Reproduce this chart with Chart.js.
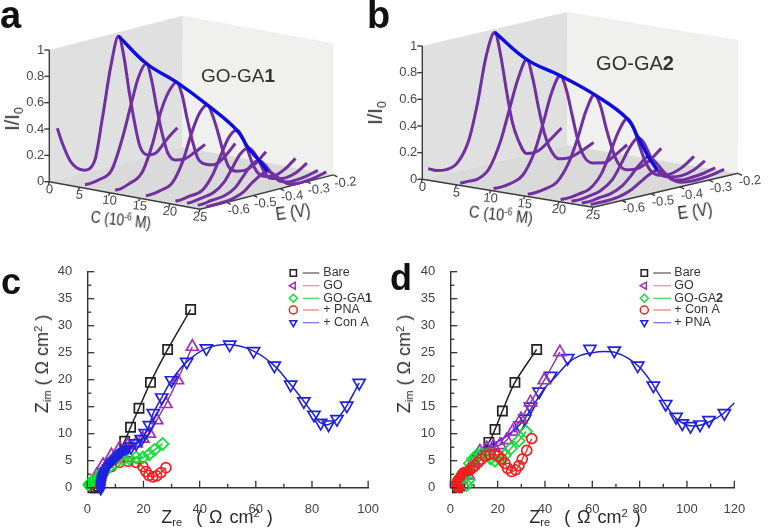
<!DOCTYPE html>
<html>
<head>
<meta charset="utf-8">
<title>GO-GA sensor curves</title>
<script src="https://cdn.jsdelivr.net/npm/chart.js@4"></script>
<style>
  html, body { margin: 0; padding: 0; background: #fff; }
  #page { position: relative; width: 769px; height: 530px; overflow: hidden; font-family: "Liberation Sans", Arial, sans-serif; }
  canvas { position: absolute; filter: blur(0.55px); }
  .t { position: absolute; white-space: nowrap; color: #2a2a2a; line-height: 1; transform-origin: center; filter: blur(0.3px); }
  .t sub { font-size: .62em; vertical-align: -0.3em; line-height: 0; }
  .t sup { font-size: .62em; vertical-align: 0.55em; line-height: 0; }
  .letter { position: absolute; font-weight: bold; line-height: 1; color: #111; }
</style>
</head>
<body>
<div id="page">
  <canvas id="panelA" width="385" height="250" style="left:0;top:0"></canvas>
  <canvas id="panelB" width="384" height="250" style="left:385px;top:0"></canvas>
  <canvas id="panelC" width="385" height="275" style="left:0;top:255px"></canvas>
  <canvas id="panelD" width="384" height="275" style="left:385px;top:255px"></canvas>

  <div class="letter" style="left:0;top:-4px;font-size:38px">a</div>
  <div class="letter" style="left:367px;top:-4px;font-size:38px">b</div>
  <div class="letter" style="left:1px;top:264px;font-size:36px">c</div>
  <div class="letter" style="left:390px;top:260px;font-size:36px">d</div>

  <div class="t" style="left:12px;top:119px;font-size:20px;transform:translate(-50%,-50%) rotate(-90deg)">I/I<sub>0</sub></div>
  <div class="t" style="left:375px;top:113px;font-size:20px;transform:translate(-50%,-50%) rotate(-90deg)">I/I<sub>0</sub></div>
  <div class="t" style="left:121px;top:220px;font-size:17px;transform:translate(-50%,-50%) rotate(6deg) scaleX(.8)">C (10<sup>-6</sup> M)</div>
  <div class="t" style="left:293px;top:212px;font-size:18px;transform:translate(-50%,-50%) rotate(-8deg) scaleX(.85)">E (V)</div>
  <div class="t" style="left:501px;top:215px;font-size:17px;transform:translate(-50%,-50%) rotate(6deg) scaleX(.85)">C (10<sup>-6</sup> M)</div>
  <div class="t" style="left:695px;top:211px;font-size:18px;transform:translate(-50%,-50%) rotate(-8deg) scaleX(.85)">E (V)</div>

  <div class="t" style="left:42px;top:364px;font-size:18px;transform:translate(-50%,-50%) rotate(-90deg)">Z<sub>im</sub> ( &#937; cm<sup>2</sup> )</div>
  <div class="t" style="left:217px;top:517px;font-size:18px;word-spacing:2px;transform:translate(-50%,-50%)">Z<sub>re</sub> &nbsp;( &#937; cm<sup>2</sup> )</div>
  <div class="t" style="left:404px;top:364px;font-size:18px;transform:translate(-50%,-50%) rotate(-90deg)">Z<sub>im</sub> ( &#937; cm<sup>2</sup> )</div>
  <div class="t" style="left:585px;top:517px;font-size:18px;word-spacing:2px;transform:translate(-50%,-50%)">Z<sub>re</sub> &nbsp;( &#937; cm<sup>2</sup> )</div>
</div>

<script>
// panel a: potentials and one I/I0 curve per concentration
const aPotential = [-0.67, -0.65, -0.62, -0.57, -0.53, -0.50, -0.47, -0.44, -0.42, -0.40, -0.38, -0.36, -0.33, -0.30, -0.26, -0.22];
const aConc = [0, 4.6, 9.6, 14.7, 19.6, 21.5, 23.3, 24.7];
const aCurve0 = [.39, .26, .11, .02, .07, .39, .75, .97, .80, .52, .28, .09, .01, .01, .09, .16];
const aCurve1 = [.00, .00, .01, .06, .28, .50, .71, .80, .66, .43, .23, .08, .01, .00, .03, .07];
const aCurve2 = [.00, .00, .02, .08, .28, .50, .64, .70, .60, .40, .22, .08, .02, .00, .04, .12];
const aCurve3 = [.00, .00, .01, .05, .20, .38, .52, .57, .48, .34, .18, .06, .01, .00, .03, .10];
const aCurve4 = [.00, .00, .01, .03, .13, .26, .38, .42, .36, .25, .13, .05, .01, .00, .03, .09];
const aCurve5 = [.00, .00, .01, .03, .09, .18, .27, .30, .26, .18, .09, .03, .01, .00, .02, .07];
const aCurve6 = [.00, .00, .01, .02, .06, .13, .20, .22, .18, .12, .06, .02, .00, .00, .01, .03];
const aCurve7 = [.00, .00, .00, .01, .04, .09, .13, .15, .12, .08, .04, .01, .00, .00, .01, .03];
const aPeakE = -0.44;
const aPeaks = [.97, .80, .70, .57, .42, .30, .22, .15];

// panel b
const bPotential = [-0.68, -0.65, -0.62, -0.58, -0.54, -0.51, -0.48, -0.45, -0.43, -0.41, -0.39, -0.37, -0.34, -0.30, -0.26, -0.22];
const bConc = [0, 4.7, 9.6, 14.6, 19.4, 21, 22.5, 23.8];
const bCurve0 = [.07, .04, .03, .06, .21, .47, .81, .975, .795, .52, .275, .13, .01, .01, .07, .14];
const bCurve1 = [.00, .00, .00, .06, .25, .47, .685, .81, .66, .43, .23, .10, .01, .00, .03, .07];
const bCurve2 = [.00, .00, .01, .05, .20, .40, .62, .73, .62, .42, .22, .09, .02, .00, .04, .095];
const bCurve3 = [.00, .00, .01, .04, .16, .32, .52, .63, .54, .36, .20, .08, .01, .00, .04, .11];
const bCurve4 = [.00, .00, .01, .03, .12, .26, .41, .49, .42, .28, .15, .06, .01, .00, .03, .09];
const bCurve5 = [.00, .00, .01, .03, .09, .19, .30, .36, .31, .21, .11, .04, .01, .00, .02, .07];
const bCurve6 = [.00, .00, .01, .02, .06, .12, .19, .23, .19, .13, .07, .02, .00, .00, .01, .03];
const bCurve7 = [.00, .00, .00, .01, .04, .08, .12, .14, .11, .07, .03, .01, .00, .00, .01, .03];
const bPeakE = -0.45;
const bPeaks = [.975, .81, .73, .63, .49, .36, .23, .14];

// 3d axis ticks
const currentTicks = ["1", "0.8", "0.6", "0.4", "0.2", "0"];
const currentTickVals = [1, .8, .6, .4, .2, 0];
const concTicks = [0, 5, 10, 15, 20, 25];
const potentialTicks = [-0.6, -0.5, -0.4, -0.3, -0.2];

// panel c: impedance
const cBareX = [2, 3, 4, 6, 9, 11.5, 13.3, 15.4, 18.4, 22.5, 28.6, 36.8];
const cBareY = [0, 0, .3, 2.5, 5, 7, 8.6, 11.2, 14.7, 19.5, 25.6, 33];
const cGoX = [37.4, 32.1, 28, 24.7, 22.1, 19.8, 17.4, 14.5, 11.5, 8.6, 5.6, 3.3, 1.5];
const cGoY = [26.1, 19.9, 15.5, 12.5, 10, 9.1, 8.2, 7.9, 7.3, 6, 4.2, 2.3, .8];
const cGaX = [26.8, 23.9, 22.1, 19.8, 17.4, 15, 12.7, 9.8, 7.4, 5.8, 5, 4.6, 4.3, 4, 3.7, 3.5, 3.3, 3, 2.8, 2.6, 2.4, 2.2, 2, 1.8, 1.5, 1.3, 1.2, 1.1, 1, .9, .8, .7, .6, .5, .4];
const cGaY = [8.1, 7, 6.2, 5.6, 5.6, 5.4, 5.3, 4.5, 3.6, 3.1, 2.7, 2.6, 2.4, 2.2, 2, 1.9, 1.7, 1.6, 1.5, 1.45, 1.4, 1.3, 1.2, 1.15, 1.1, 1.05, 1, .95, .9, .85, .8, .75, .7, .6, .5];
const cPnaX = [28, 26.2, 24.7, 23.3, 21.9, 20.9, 19.8, 17.4, 14.5, 11.5, 8.6, 5.6, 2.7, .9];
const cPnaY = [3.7, 2.8, 2.2, 2, 2.3, 3, 3.9, 4.7, 4.9, 4.7, 3.9, 2.7, 1.4, .5];
const cConAX = [96.8, 92.4, 88.9, 85.9, 83.1, 80.7, 77.1, 72.4, 66.6, 59.2, 50.7, 42.4, 35.4, 30, 26.5, 23.5, 22.1, 20.6, 19.2, 17.4, 15.6, 14.5, 13.9, 13.3, 12.7, 12.1, 11.5, 10.9, 10.3, 9.8, 9.2, 8.6, 8, 7.4, 7, 6.5, 6.2, 6, 5.8, 5.6, 5.5, 5.3, 5.2, 5.1, 5, 4.9, 4.85, 4.8, 4.8, 4.8];
const cConAY = [19.4, 15.2, 12.7, 11.7, 12, 13.5, 16, 19.1, 22.6, 25.3, 26.5, 25.8, 23.3, 19.9, 16.7, 13.8, 11.6, 10.1, 9, 8.2, 7.6, 7.3, 7.1, 7, 6.8, 6.5, 6.2, 6, 5.7, 5.4, 5.1, 4.8, 4.5, 4.1, 3.7, 3.3, 3, 2.8, 2.5, 2.3, 2.1, 1.9, 1.7, 1.4, 1.15, .9, .7, .5, .1, -.4];

// panel d: impedance
const dBareX = [3, 4, 6, 10, 13, 16.3, 18.9, 22, 27.3, 36.5];
const dBareY = [0, .3, 2, 5, 7, 8.4, 10.8, 14.2, 19.5, 25.6];
const dGoX = [46.3, 39.7, 33.9, 29.9, 26.3, 23.8, 21, 18.2, 15.4, 12.5, 9.7, 7.6, 5.5];
const dGoY = [25.1, 19.9, 15.8, 12.7, 10.4, 8.8, 7.9, 7.6, 7.3, 6.7, 4.8, 2.3, .5];
const dGaX = [32, 28.9, 25.6, 23.1, 21, 18.9, 17, 15.4, 13, 11.1, 9.6, 8.3, 7.6, 6.9];
const dGaY = [10.4, 8.7, 7.3, 6, 5.2, 5, 5.4, 6, 6.2, 6, 5.3, 4.5, 1.4, .5];
const dConAX = [34.4, 32.3, 30.4, 29, 27.6, 25.9, 24.2, 23.1, 21.7, 20.3, 18.6, 16.8, 14.9, 13.2, 11.8, 10.4, 9.4, 8.3, 7.8, 7.4, 7, 6.8, 6.5, 6.2, 5.9, 5.7, 5.4, 5.2, 5, 4.8, 4.6, 4.5, 4.3, 4.2, 4, 3.8, 3.6, 3.4, 3.2, 3.1, 2.9, 2.8, 2.7, 2.6, 2.5, 2.4, 2.45, 2.5, 2.6, 2.7, 2.85, 3, 3.2, 3.4, 4];
const dConAY = [9.1, 6.9, 5.3, 4.1, 3.3, 3, 3.6, 4.5, 5.3, 5.9, 6.2, 6.2, 5.9, 5.3, 4.7, 4.1, 3.7, 3.3, 3.2, 3.1, 3.05, 3, 3, 3, 2.95, 2.9, 2.8, 2.7, 2.6, 2.5, 2.4, 2.3, 2.15, 2, 1.9, 1.8, 1.7, 1.6, 1.5, 1.4, 1.3, 1.2, 1.1, 1, .9, .8, .65, .5, .3, .1, .05, 0, -.05, -.1, -.1];
const dPnaX = [115.8, 109.3, 105.5, 101.5, 98, 95.4, 91, 85.8, 79.2, 69.3, 59, 49.6, 42.4, 37.5, 33.9, 31.5, 29.4, 27.3, 24.5, 21.7, 18.9, 16];
const dPnaY = [13.8, 12.5, 11.7, 11.4, 11.9, 13.1, 15.5, 18.9, 22.6, 25.4, 25.7, 24, 20.7, 17.8, 15, 12.8, 11.5, 10.7, 9.8, 9, 8.2, 7.6];
const dFitX = [120, 115, 110, 105, 100, 95, 90, 85, 80, 75, 70, 65, 60, 55, 50, 45, 40, 35, 31, 27, 22, 16, 10, 6];
const dFitY = [15.7, 13.6, 12.3, 11.5, 11.6, 13, 16, 19.5, 22.3, 24, 25, 25.2, 25, 24.5, 23.2, 20.8, 18.5, 15.2, 12.5, 10.7, 9, 7.6, 5, 2];

const cLegend = ["Bare", "GO", "GO-GA1", "+ PNA", "+ Con A"];
const dLegend = ["Bare", "GO", "GO-GA2", "+ Con A", "+ PNA"];

const font = '"Liberation Sans", Arial, sans-serif';
const purple = "#7030a0";
const blue = "#0c0ce0";

function pairs(xs, ys) {
  return xs.map((x, i) => ({ x: x, y: ys[i] }));
}

// oblique view of the box: pixels per unit of C, E and I
const viewA = { ox: 49.3, oy: 181.7, cx: 6.03, cy: 1.1, ex: 266.7, ey: -68.7, iy: -131.7, textX: 238, textY: 77, textSize: 19, name: "GO-GA", num: "1" };
const viewB = { ox: 37.3, oy: 179.3, cx: 6.83, cy: 1.12, ex: 290, ey: -68, iy: -133.3, textX: 250, textY: 64, textSize: 20, name: "GO-GA", num: "2" };

function project(v, c, e, i) {
  return {
    x: v.ox + v.cx * c + v.ex * (e + 0.7),
    y: v.oy + v.cy * c + v.ey * (e + 0.7) + v.iy * i
  };
}

function boxPlugin(v) {
  function px(chart, c, e, i) {
    const p = project(v, c, e, i);
    return [chart.scales.x.getPixelForValue(p.x), chart.scales.y.getPixelForValue(p.y)];
  }
  function poly(ctx, chart, corners, fill) {
    ctx.beginPath();
    corners.forEach((k, n) => {
      const p = px(chart, k[0], k[1], k[2]);
      if (n === 0) ctx.moveTo(p[0], p[1]); else ctx.lineTo(p[0], p[1]);
    });
    ctx.closePath();
    ctx.fillStyle = fill;
    ctx.fill();
  }
  function line(ctx, a, b) {
    ctx.beginPath();
    ctx.moveTo(a[0], a[1]);
    ctx.lineTo(b[0], b[1]);
    ctx.stroke();
  }
  function label(ctx, text, x, y, angle) {
    ctx.save();
    ctx.translate(x, y);
    ctx.rotate(angle * Math.PI / 180);
    ctx.fillText(text, 0, 0);
    ctx.restore();
  }
  return {
    id: "box",
    beforeDatasetsDraw(chart) {
      const ctx = chart.ctx;
      ctx.save();
      // walls and floor
      poly(ctx, chart, [[0, -0.7, 1], [0, -0.2, 1], [0, -0.2, 0], [0, -0.7, 0]], "#e0e0e1");
      poly(ctx, chart, [[0, -0.2, 1], [25, -0.2, 1], [25, -0.2, 0], [0, -0.2, 0]], "#f0f0ee");
      poly(ctx, chart, [[0, -0.7, 0], [0, -0.2, 0], [25, -0.2, 0], [25, -0.7, 0]], "#dadada");

      // axes
      ctx.strokeStyle = "#3c3c3c";
      ctx.lineWidth = 1.4;
      line(ctx, px(chart, 0, -0.7, 1), px(chart, 0, -0.7, 0));
      line(ctx, px(chart, 0, -0.7, 0), px(chart, 25, -0.7, 0));
      line(ctx, px(chart, 25, -0.7, 0), px(chart, 25, -0.2, 0));

      ctx.fillStyle = "#4a4a4a";
      ctx.font = "13px " + font;
      ctx.textBaseline = "middle";
      ctx.textAlign = "right";
      currentTicks.forEach((t, n) => {
        const p = px(chart, 0, -0.7, currentTickVals[n]);
        line(ctx, p, [p[0] - 5, p[1]]);
        ctx.fillText(t, p[0] - 5, p[1]);
      });
      ctx.textAlign = "center";
      concTicks.forEach((t) => {
        const p = px(chart, t, -0.7, 0);
        line(ctx, p, [p[0] - 1, p[1] + 3]);
        label(ctx, String(t), p[0], p[1] + 8, 5);
      });
      potentialTicks.forEach((t) => {
        const p = px(chart, 25, t, 0);
        line(ctx, p, [p[0] + 4, p[1] + 2]);
        label(ctx, t.toFixed(1), p[0] + 12, p[1] + 8, -6);
      });
      ctx.font = v.textSize + "px " + font;
      ctx.fillStyle = "#333";
      ctx.textAlign = "left";
      const w1 = ctx.measureText(v.name).width;
      ctx.font = "bold " + v.textSize + "px " + font;
      const w2 = ctx.measureText(v.num).width;
      const left = v.textX - (w1 + w2) / 2;
      ctx.font = v.textSize + "px " + font;
      ctx.fillText(v.name, left, v.textY);
      ctx.font = "bold " + v.textSize + "px " + font;
      ctx.fillText(v.num, left + w1, v.textY);
      ctx.restore();
    }
  };
}

function drawBox(id, v, potential, conc, curves, peakE, peaks, w) {
  const datasets = [{
    data: conc.map((c, n) => project(v, c, peakE, peaks[n])),
    borderColor: blue,
    borderWidth: 3.4,
    tension: 0.4,
    pointRadius: 0
  }];
  curves.forEach((curve, n) => {
    datasets.push({
      data: curve.map((val, k) => project(v, conc[n], potential[k], val)),
      borderColor: purple,
      borderWidth: 3,
      cubicInterpolationMode: "monotone",
      pointRadius: 0
    });
  });
  new Chart(document.getElementById(id), {
    type: "scatter",
    data: { datasets: datasets },
    options: {
      responsive: false,
      animation: false,
      showLine: true,
      layout: { padding: 0 },
      plugins: { legend: { display: false }, tooltip: { enabled: false } },
      scales: {
        x: { display: false, min: 0, max: w },
        y: { display: false, min: 0, max: 250, reverse: true }
      }
    },
    plugins: [boxPlugin(v)]
  });
}

drawBox("panelA", viewA, aPotential, aConc, [aCurve0, aCurve1, aCurve2, aCurve3, aCurve4, aCurve5, aCurve6, aCurve7], aPeakE, aPeaks, 385);
drawBox("panelB", viewB, bPotential, bConc, [bCurve0, bCurve1, bCurve2, bCurve3, bCurve4, bCurve5, bCurve6, bCurve7], bPeakE, bPeaks, 384);

// marker and line colours for the five impedance series
const styles = [
  { style: "rect", mark: "#222222", line: "#222222", key: "#555555", rot: 0, r: 6.5 },
  { style: "triangle", mark: "#a030c0", line: "#8a3a90", key: "#c890e0", rot: 0, r: 7, keyRot: -90 },
  { style: "rectRot", mark: "#10e030", line: "#30c050", key: "#40d070", rot: 0, r: 6 },
  { style: "circle", mark: "#f02020", line: "#e04040", key: "#e08080", rot: 0, r: 5 },
  { style: "triangle", mark: "#2020e0", line: "#2020d0", key: "#7070e0", rot: 180, r: 7 }
];

function series(xs, ys, st, order, radius) {
  return {
    data: pairs(xs, ys),
    borderColor: st.line,
    borderWidth: 1.5,
    tension: 0.3,
    order: order,
    clip: false,
    pointStyle: st.style,
    pointRotation: st.rot,
    pointRadius: radius || st.r,
    pointBackgroundColor: "rgba(255,255,255,0)",
    pointBorderColor: st.mark,
    pointBorderWidth: 1.7
  };
}

function axisPlugin(labels, legendRows) {
  return {
    id: "axisMarks",
    afterDraw(chart) {
      const ctx = chart.ctx;
      const xs = chart.scales.x;
      const ys = chart.scales.y;
      const area = chart.chartArea;
      ctx.save();
      ctx.strokeStyle = "#333";
      ctx.lineWidth = 1.3;
      // inward ticks, major and minor
      for (let v = 0; v <= 40; v += 2.5) {
        const y = ys.getPixelForValue(v);
        ctx.beginPath();
        ctx.moveTo(area.left, y);
        ctx.lineTo(area.left + (v % 5 === 0 ? 7 : 4), y);
        ctx.stroke();
      }
      for (let v = 0; v <= xs.max; v += 10) {
        const x = xs.getPixelForValue(v);
        ctx.beginPath();
        ctx.moveTo(x, area.bottom);
        ctx.lineTo(x, area.bottom - (v % 20 === 0 ? 7 : 4));
        ctx.stroke();
      }
      // legend: marker, short line, label
      ctx.textBaseline = "middle";
      labels.forEach((text, n) => {
        const st = styles[n];
        const y = legendRows.y[n];
        ctx.strokeStyle = st.key;
        ctx.lineWidth = 1.2;
        ctx.beginPath();
        ctx.moveTo(legendRows.lineFrom, y);
        ctx.lineTo(legendRows.lineTo, y);
        ctx.stroke();
        ctx.strokeStyle = st.mark;
        ctx.lineWidth = 1.5;
        ctx.fillStyle = "rgba(255,255,255,0)";
        Chart.helpers.drawPoint(ctx, { pointStyle: st.style, rotation: st.keyRot || st.rot, radius: st.style === "rect" ? 4.5 : 4, borderWidth: 1.5 }, legendRows.mark, y);
        ctx.fillStyle = "#333";
        const digit = text.match(/\d$/);
        const head = digit ? text.slice(0, -1) : text;
        ctx.font = "12.5px " + font;
        ctx.fillText(head, legendRows.text, y);
        if (digit) {
          const w = ctx.measureText(head).width;
          ctx.font = "bold 12.5px " + font;
          ctx.fillText(digit[0], legendRows.text + w, y);
        }
      });
      ctx.restore();
    }
  };
}

function drawImpedance(id, datasets, xMax, left, right, labels, legendRows) {
  new Chart(document.getElementById(id), {
    type: "scatter",
    data: { datasets: datasets },
    options: {
      responsive: false,
      animation: false,
      showLine: true,
      layout: { padding: { left: 0, right: right, top: 16.7, bottom: 0 } },
      plugins: { legend: { display: false }, tooltip: { enabled: false } },
      scales: {
        x: {
          type: "linear",
          min: 0,
          max: xMax,
          grid: { display: false },
          border: { color: "#333", width: 1.4 },
          ticks: { stepSize: 20, padding: 6, color: "#444", maxRotation: 0, font: { size: 13, family: font } },
          afterFit(scale) { scale.height = 42.3; }
        },
        y: {
          min: 0,
          max: 40,
          grid: { display: false },
          border: { color: "#333", width: 1.4 },
          ticks: { stepSize: 5, padding: 7, color: "#444", font: { size: 13, family: font } },
          afterFit(scale) { scale.width = left; }
        }
      }
    },
    plugins: [axisPlugin(labels, legendRows)]
  });
}

const rows = [18, 30.7, 43.3, 55, 67.7];

const cBlue = series(cConAX, cConAY, styles[4], 0);
cBlue.pointRadius = (ctx) => (ctx.dataIndex > 20 ? 5 : 7);
const cGreen = series(cGaX, cGaY, styles[2], 1);
cGreen.pointRadius = (ctx) => (ctx.dataIndex > 9 ? 5 : 6);
// the black markers below Z_im = 8 sit hidden under the other series
const cBlack = series(cBareX, cBareY, styles[0], 4);
cBlack.pointRadius = (ctx) => (ctx.dataIndex > 2 && ctx.dataIndex < 6 ? 0 : 6.5);

drawImpedance("panelC", [
  cBlue,
  cGreen,
  series(cPnaX, cPnaY, styles[3], 2),
  series(cGoX, cGoY, styles[1], 3),
  cBlack
], 100, 87.3, 14.3, cLegend, { y: rows, mark: 293.3, lineFrom: 302.7, lineTo: 319.3, text: 323.3 });

const dMarkers = series(dPnaX, dPnaY, styles[4], 3);
dMarkers.showLine = false;
dMarkers.pointRadius = (ctx) => (ctx.dataIndex > 16 ? 1.5 : 7);

const dFit = series(dFitX, dFitY, styles[4], 3);
dFit.pointRadius = 0;

const dRed = series(dConAX, dConAY, styles[3], 0);
dRed.pointRadius = (ctx) => (ctx.dataIndex > 17 ? 4 : 5);
const dBlack = series(dBareX, dBareY, styles[0], 4);
dBlack.pointRadius = (ctx) => (ctx.dataIndex > 1 && ctx.dataIndex < 5 ? 0 : 6.5);

drawImpedance("panelD", [
  dRed,
  series(dGaX, dGaY, styles[2], 1),
  series(dGoX, dGoY, styles[1], 2),
  dMarkers,
  dFit,
  dBlack
], 120, 65.3, 34.7, dLegend, { y: rows, mark: 259.3, lineFrom: 268.3, lineTo: 286, text: 289.3 });
</script>
</body>
</html>
